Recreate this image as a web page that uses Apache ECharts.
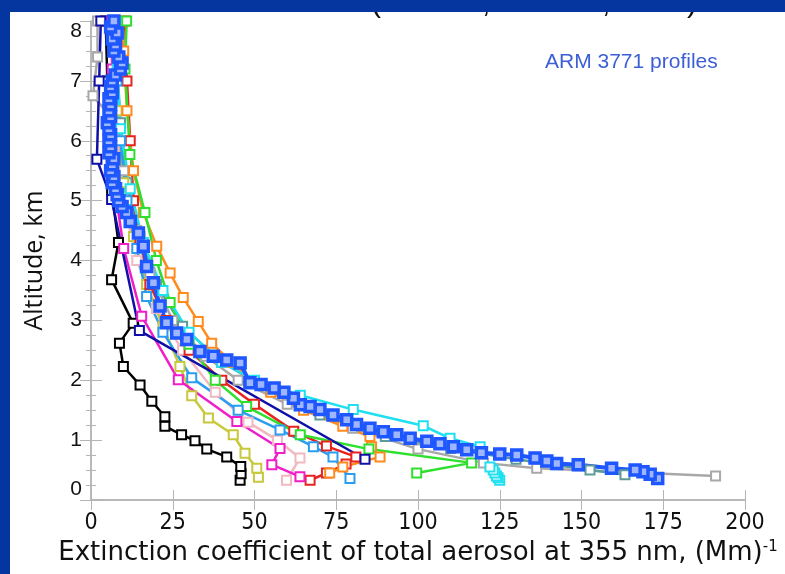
<!DOCTYPE html>
<html>
<head>
<meta charset="utf-8">
<script src="https://cdn.jsdelivr.net/npm/echarts@6/dist/echarts.min.js"></script>
<style>
html,body{margin:0;padding:0;background:#fff;}
#chart{width:785px;height:574px;}
</style>
</head>
<body>
<div id="chart"></div>
<script>
// ---- data: [extinction (Mm^-1), altitude (km)] ----
const grayProfile = [[191,0.40],[136.3,0.53],[120,0.62],[100,0.85],[80,1.2],[60,1.6],[45,2.0],[35,2.4],[25,3.0],[18,3.8],[14,4.5],[10,5.5],[6,6.4],[0.6,6.75],[2,7.4],[2,8]];
const tealProfile = [[163.3,0.42],[152.6,0.50],[130,0.68],[110,0.86],[90,1.06],[70,1.42],[55,1.82],[40,2.3],[28,2.9],[20,3.6],[15,4.4],[11,5.3],[9,6.3],[8,7.3],[7,8]];
const pinkProfile = [[59.8,0.33],[63.9,0.70],[57,1.0],[48,1.3],[38,1.8],[28,2.5],[20,3.2],[14,4.0],[10,5.0],[8,6.0],[7,7.0],[6,8]];
const yellowProfile = [[51.2,0.38],[50.7,0.53],[47.1,0.78],[43.5,1.09],[35.9,1.37],[30.8,1.74],[27.2,2.23],[22,2.9],[17,3.6],[13,4.4],[10,5.3],[8,6.5],[7,8]];
const blackProfile = [[45.6,0.33],[45.9,0.44],[45.8,0.56],[41.5,0.72],[35.4,0.85],[31.8,0.99],[27.7,1.09],[22.6,1.23],[22.6,1.39],[18.6,1.65],[15.0,1.92],[9.9,2.23],[8.7,2.62],[12.9,2.95],[6.3,3.68],[8.4,4.3],[6.3,5.16],[5.5,6.0],[5.0,7.0],[4.5,8.0]];
const redProfile = [[67,0.33],[72,0.45],[78,0.6],[81,0.72],[72,0.9],[62,1.15],[50,1.6],[40,2.0],[30,2.5],[23,3.0],[18,3.6],[15,4.3],[13,5.0],[12,6.0],[11,7.0],[10.4,8]];
const orangeProfile = [[73,0.45],[77,0.55],[88.4,0.72],[85.8,0.89],[85.3,1.06],[77,1.23],[65,1.5],[55,1.8],[49.6,1.98],[43,2.3],[36.9,2.62],[32.8,2.98],[28.2,3.38],[24.2,3.79],[20.1,4.24],[16,4.8],[13,5.5],[11,6.5],[10,7.5],[9,8]];
const greenProfile = [[99.6,0.45],[116.4,0.62],[85,0.85],[64,1.09],[47.6,1.56],[38,2.0],[30,2.6],[24.2,3.3],[20,4.0],[16.5,4.8],[11.9,5.77],[10.4,7.2],[10.9,8]];
const lightBlueProfile = [[79.2,0.36],[74,0.72],[68,0.89],[57.8,1.17],[45,1.5],[30.8,2.04],[22,2.8],[17,3.4],[14,4.2],[11,5.0],[9,6.0],[8,7.0],[7,8]];
const magentaProfile = [[63.9,0.39],[55.3,0.59],[57.8,0.86],[44.6,1.31],[26.7,2.01],[15.5,3.07],[10,4.2],[7.8,5.02],[7,6.2],[6.5,7.2],[6,8]];
const navyProfile = [[83.8,0.68],[14.8,2.83],[6.3,5.02],[1.8,5.69],[2.5,7.0],[3,8]];
const cyanProfile = [[125,0.33],[124.5,0.37],[124,0.40],[123.5,0.45],[123,0.5],[122,0.55],[119,0.89],[109.8,1.03],[101.6,1.24],[80.2,1.51],[64,1.75],[50,2.0],[40,2.3],[30,2.8],[22,3.5],[16,4.3],[12,5.2],[9,6.2],[8,7.2],[7.5,8]];
const armBlueProfile = [[173.3,0.36],[171,0.43],[168.8,0.47],[166.4,0.50],[159.2,0.53],[149,0.59],[142.4,0.61],[139.4,0.65],[135.8,0.70],[130.2,0.75],[125,0.77],[119.4,0.79],[114.9,0.84],[110.8,0.89],[106.7,0.94],[102.7,0.98],[97.6,1.03],[93.5,1.09],[89.4,1.14],[85.3,1.20],[81.2,1.26],[78.2,1.34],[74,1.42],[70,1.51],[67,1.56],[64,1.59],[61.9,1.70],[59,1.80],[56,1.87],[52,1.93],[48.6,1.96],[45.6,2.29],[41.5,2.34],[37.4,2.40],[33.3,2.48],[29.3,2.68],[26.2,2.79],[23.1,2.96],[21.1,3.24],[19.1,3.63],[17,3.90],[16,4.24],[14.5,4.46],[12,4.65],[10.9,4.80],[9.5,4.9],[8.5,5.0],[8,5.1],[7.5,5.2],[6.5,5.3],[7,5.4],[6,5.5],[6.5,5.6],[7,5.7],[5.5,5.8],[6,5.9],[5.5,6.0],[6,6.1],[5.5,6.2],[5,6.3],[6,6.4],[5.5,6.5],[6,6.6],[5.5,6.7],[6.5,6.8],[6,6.9],[6.5,7.0],[7.5,7.1],[9,7.2],[9.5,7.3],[8.5,7.4],[7,7.5],[7.5,7.6],[6.5,7.7],[8,7.8],[6,7.9],[7,8.0]];

const xTicks = [0,25,50,75,100,125,150,175,200];

const profiles = [
  {name:'gray', data:grayProfile, color:'#a8a8a8'},
  {name:'teal', data:tealProfile, color:'#5f9a9a'},
  {name:'pink', data:pinkProfile, color:'#f0b8c0'},
  {name:'yellow', data:yellowProfile, color:'#c8c83c'},
  {name:'black', data:blackProfile, color:'#000000'},
  {name:'red', data:redProfile, color:'#e8221e'},
  {name:'orange', data:orangeProfile, color:'#ff8a1e'},
  {name:'green', data:greenProfile, color:'#2ee02e'},
  {name:'lightblue', data:lightBlueProfile, color:'#2a9df0'},
  {name:'magenta', data:magentaProfile, color:'#f01ec8'},
  {name:'navy', data:navyProfile, color:'#1010a8'},
  {name:'cyan', data:cyanProfile, color:'#1ee0f0'},
  {name:'arm', data:armBlueProfile, color:'#1e56ff', big:true}
];

const axisGray = '#b4b4b4';
const chart = echarts.init(document.getElementById('chart'), null, {renderer:'canvas'});

const xBase = {
  type:'value', min:0, max:200, interval:25,
  axisLine:{show:true, lineStyle:{color:axisGray, width:1.5}},
  axisTick:{show:true, inside:true, length:10, lineStyle:{color:axisGray}},
  splitLine:{show:false}
};
const yBase = {
  type:'value', min:0, max:8, interval:1,
  axisLine:{show:true, lineStyle:{color:axisGray, width:1.5}},
  axisTick:{show:true, inside:true, length:11, lineStyle:{color:axisGray}},
  minorTick:{show:true, splitNumber:4, length:5, lineStyle:{color:axisGray}},
  splitLine:{show:false}
};
const titleFont = "'DejaVu Sans',sans-serif";

chart.setOption({
  animation:false,
  backgroundColor:'#ffffff',
  grid:{left:91, right:40, top:21, bottom:74},
  xAxis:[
    Object.assign({}, xBase, {
      position:'bottom',
      axisLabel:{show:true, margin:12, color:'#111', fontSize:23,
        fontFamily:"'Liberation Sans Narrow','DejaVu Sans Condensed',sans-serif",
        formatter:function(v){ return xTicks.indexOf(v) >= 0 ? String(v) : ''; }},
      name:'Extinction coefficient of total aerosol at 355 nm, {n|(Mm)}{s|-1}',
      nameLocation:'middle', nameGap:36,
      nameTextStyle:{color:'#111', fontSize:26, fontFamily:titleFont,
        rich:{n:{fontSize:26, color:'#111', fontFamily:titleFont},
              s:{fontSize:15, color:'#111', verticalAlign:'top', padding:[0,0,12,0], fontFamily:titleFont}}}
    }),
    Object.assign({}, xBase, {position:'top', axisLabel:{show:false}})
  ],
  yAxis:[
    Object.assign({}, yBase, {
      position:'left',
      axisLabel:{show:true, margin:9, color:'#111', fontSize:21, fontFamily:"'Liberation Sans',Arial,sans-serif",
        verticalAlignMinLabel:'bottom', verticalAlignMaxLabel:'top'},
      name:'Altitude, km', nameLocation:'middle', nameGap:44, nameRotate:90,
      nameTextStyle:{color:'#111', fontSize:25, fontFamily:"'Open Sans','Noto Sans',sans-serif"}
    }),
    Object.assign({}, yBase, {position:'right', axisLabel:{show:false}})
  ],
  graphic:[
    {type:'text', left:545, top:52, z:10,
      style:{text:'ARM 3771 profiles', fill:'#3d5fd6', font:"21px 'Liberation Sans', Arial, sans-serif"}},
    {type:'text', left:371, top:-11, z:20, style:{text:'(', fill:'#111', font:"30px 'Liberation Sans', sans-serif"}},
    {type:'text', left:482, top:-11, z:20, style:{text:',', fill:'#111', font:"30px 'Liberation Sans', sans-serif"}},
    {type:'text', left:602, top:-11, z:20, style:{text:',', fill:'#111', font:"30px 'Liberation Sans', sans-serif"}},
    {type:'text', left:687, top:-11, z:20, style:{text:')', fill:'#111', font:"30px 'Liberation Sans', sans-serif"}},
    {type:'rect', left:0, top:0, z:30, shape:{width:785, height:12}, style:{fill:'#0536a0'}},
    {type:'rect', left:0, top:0, z:30, shape:{width:10, height:574}, style:{fill:'#0536a0'}}
  ],
  series: profiles.map(function(p){
    return {
      name:p.name, type:'line', data:p.data,
      xAxisIndex:0, yAxisIndex:0,
      showSymbol:true, symbol:'rect', symbolSize: p.big ? 10 : 9,
      lineStyle:{color:p.color, width: p.big ? 4 : 2.5},
      itemStyle:{color: p.big ? '#9fb6ff' : '#ffffff', borderColor:p.color, borderWidth: p.big ? 3.5 : 2},
      emphasis:{disabled:true},
      clip:true
    };
  })
});
</script>
</body>
</html>
